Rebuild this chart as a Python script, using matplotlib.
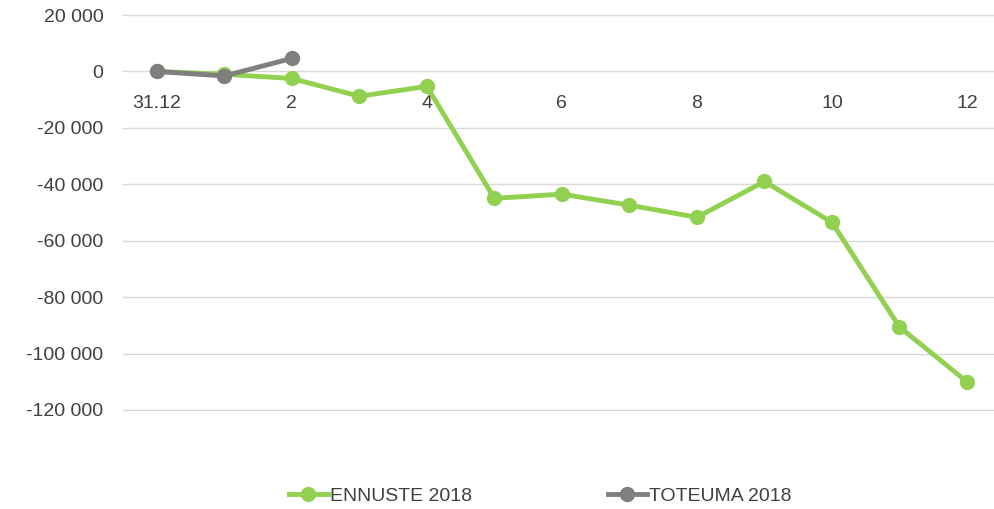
import matplotlib.pyplot as plt
from matplotlib import font_manager

# data
months = ['31.12', '1', '2', '3', '4', '5', '6', '7', '8', '9', '10', '11', '12']
ennuste = [0, -1000, -2500, -8800, -5300, -45000, -43500, -47400, -51700,
           -39000, -53500, -90600, -110000]
toteuma = [0, -1600, 4600]

names = {f.name for f in font_manager.fontManager.ttflist}
fam = 'Liberation Sans Narrow' if 'Liberation Sans Narrow' in names else 'Liberation Sans'
plt.rcParams['font.family'] = [fam, 'DejaVu Sans']

fig = plt.figure(figsize=(9.94, 5.09), dpi=100)
ax = fig.add_axes([123 / 994, 1 - 410 / 509, 1 - 123 / 994, (410 - 15) / 509])

x = list(range(len(months)))
ax.plot(x, ennuste, color='#92D050', lw=3.5, marker='o', ms=10,
        label='ENNUSTE 2018', zorder=3)
ax.plot(x[:len(toteuma)], toteuma, color='#7F7F7F', lw=3.5, marker='o', ms=10,
        label='TOTEUMA 2018', zorder=4)

ax.set_ylim(-120000, 20000)
ax.set_xlim(-0.5, 12.4)
ax.set_yticks(range(-120000, 20001, 20000))
ax.set_yticklabels([f'{v:,}'.replace(',', ' ') for v in range(-120000, 20001, 20000)])
ax.grid(axis='y', color='#D9D9D9', lw=1)
for gl in ax.get_ygridlines():
    gl.set_clip_on(False)
ax.set_axisbelow(True)

ax.set_xticks(x[::2])
ax.set_xticklabels(months[::2])
ax.spines['bottom'].set_position(('data', 0))
for s in ['top', 'right', 'left', 'bottom']:
    ax.spines[s].set_visible(False)
ax.tick_params(axis='x', length=0, pad=17, labelsize=14, colors='#404040')
ax.tick_params(axis='y', length=0, pad=14, labelsize=14, colors='#404040')

fig.legend(loc='center', bbox_to_anchor=(540 / 994, 1 - 496 / 509), ncol=2,
           frameon=False, fontsize=14, handlelength=2.0, handletextpad=0.1,
           columnspacing=7, labelcolor='#404040')

fig.savefig('out.png', dpi=100)
